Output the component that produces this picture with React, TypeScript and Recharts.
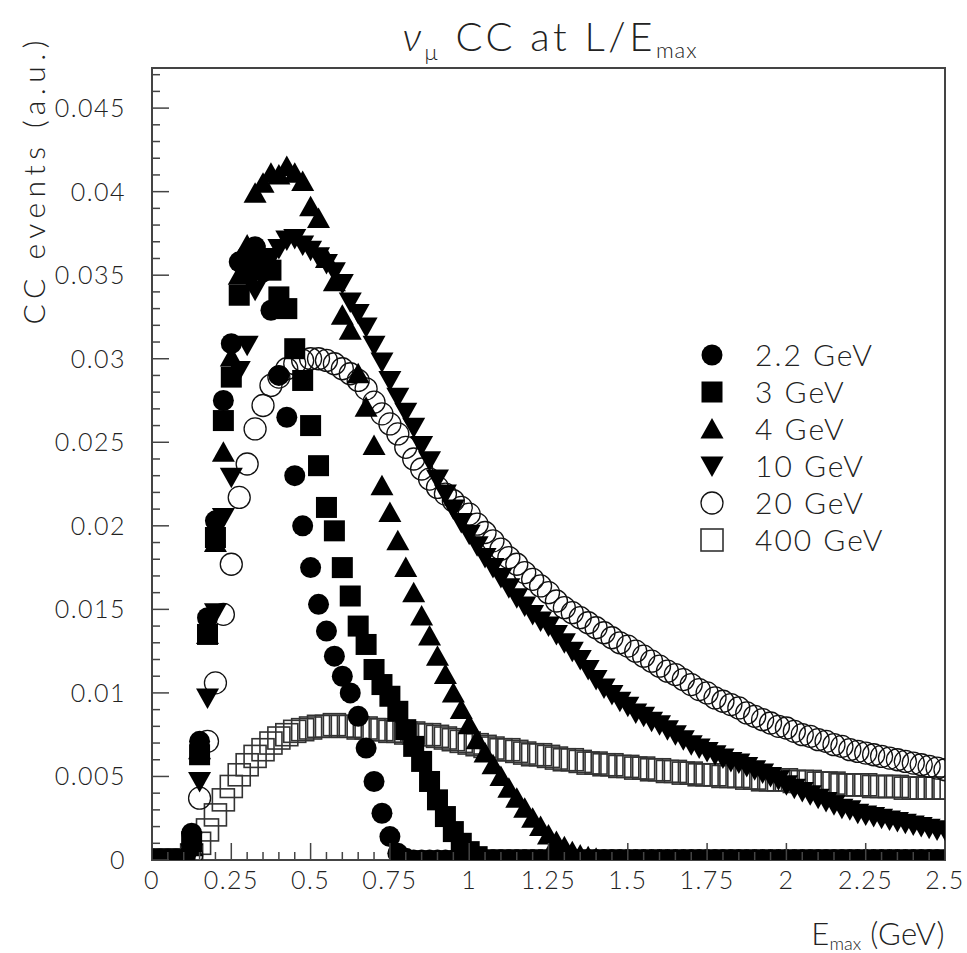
import { ScatterChart, Scatter, XAxis, YAxis, ReferenceArea } from 'recharts'

// nu_mu CC event spectra at L/E_max, one value per 0.025 GeV step in E_max (0 .. 2.5)
const BIN = 0.025

const E22 = [
  0, 0, 0, 0, 0, 0.0016, 0.0071, 0.0145, 0.0203, 0.0275,
  0.0309, 0.0358, 0.0362, 0.0367, 0.0352, 0.0329, 0.0290, 0.0265, 0.0230, 0.0200,
  0.0175, 0.0153, 0.0137, 0.0122, 0.0110, 0.0100, 0.0086, 0.0067, 0.0047, 0.0028,
  0.0014, 0.0004, 0.0001, 0, 0, 0, 0, 0, 0, 0,
  0, 0, 0, 0, 0, 0, 0, 0, 0, 0,
  0, 0, 0, 0, 0, 0, 0, 0, 0, 0,
  0, 0, 0, 0, 0, 0, 0, 0, 0, 0,
  0, 0, 0, 0, 0, 0, 0, 0, 0, 0,
  0, 0, 0, 0, 0, 0, 0, 0, 0, 0,
  0, 0, 0, 0, 0, 0, 0, 0, 0, 0,
  0,
]

const E3 = [
  0, 0, 0, 0, 0, 0.0011, 0.0063, 0.0135, 0.0193, 0.0263,
  0.0289, 0.0338, 0.0352, 0.0362, 0.0360, 0.0353, 0.0337, 0.0330, 0.0306, 0.0287,
  0.0260, 0.0236, 0.0211, 0.0197, 0.0175, 0.0158, 0.0140, 0.0129, 0.0114, 0.0105,
  0.0098, 0.0089, 0.0078, 0.0068, 0.0059, 0.0047, 0.0036, 0.0026, 0.0017, 0.0010,
  0.0005, 0.0002, 0, 0, 0, 0, 0, 0, 0, 0,
  0, 0, 0, 0, 0, 0, 0, 0, 0, 0,
  0, 0, 0, 0, 0, 0, 0, 0, 0, 0,
  0, 0, 0, 0, 0, 0, 0, 0, 0, 0,
  0, 0, 0, 0, 0, 0, 0, 0, 0, 0,
  0, 0, 0, 0, 0, 0, 0, 0, 0, 0,
  0,
]

const E4 = [
  0, 0, 0, 0, 0, 0.0008, 0.0066, 0.0135, 0.0190, 0.0244,
  0.0301, 0.0350, 0.0368, 0.0399, 0.0405, 0.0411, 0.0410, 0.0415, 0.0411, 0.0406,
  0.0391, 0.0384, 0.0360, 0.0346, 0.0326, 0.0317, 0.0291, 0.0271, 0.0248, 0.0224,
  0.0208, 0.0191, 0.0175, 0.0160, 0.0146, 0.0134, 0.0122, 0.0111, 0.0100, 0.0090,
  0.0081, 0.0072, 0.0064, 0.0057, 0.0050, 0.0043, 0.0037, 0.0031, 0.0025, 0.0020,
  0.0015, 0.0011, 0.0008, 0.0005, 0.0003, 0.0002, 0.0001, 0, 0, 0,
  0, 0, 0, 0, 0, 0, 0, 0, 0, 0,
  0, 0, 0, 0, 0, 0, 0, 0, 0, 0,
  0, 0, 0, 0, 0, 0, 0, 0, 0, 0,
  0, 0, 0, 0, 0, 0, 0, 0, 0, 0,
  0,
]

const E10 = [
  0, 0, 0, 0, 0, 0.0004, 0.0047, 0.0097, 0.0148, 0.0205,
  0.0229, 0.0293, 0.0308, 0.0341, 0.0352, 0.0360, 0.0366, 0.0371, 0.0372, 0.0368,
  0.0365, 0.0361, 0.0357, 0.0352, 0.0345, 0.0334, 0.0327, 0.0319, 0.0308, 0.0298,
  0.0287, 0.0277, 0.0268, 0.0259, 0.0248, 0.0239, 0.0228, 0.0219, 0.0210, 0.0202,
  0.0195, 0.0188, 0.0181, 0.0175, 0.0169, 0.0163, 0.0157, 0.0152, 0.0147, 0.0143,
  0.0140, 0.0135, 0.0130, 0.0125, 0.0120, 0.0114, 0.0108, 0.0103, 0.0099, 0.0095,
  0.0092, 0.0088, 0.0086, 0.0083, 0.0081, 0.0078, 0.0075, 0.0072, 0.0069, 0.0067,
  0.0065, 0.0063, 0.0061, 0.0059, 0.0058, 0.0056, 0.0054, 0.0052, 0.0050, 0.0048,
  0.0045, 0.0043, 0.0041, 0.0039, 0.0037, 0.0035, 0.0033, 0.0031, 0.0030, 0.0028,
  0.0027, 0.0026, 0.0025, 0.0024, 0.0023, 0.0022, 0.0021, 0.0020, 0.0019, 0.0018,
  0.0018,
]

const E20 = [
  0, 0, 0, 0, 0, 0.0003, 0.0037, 0.0071, 0.0106, 0.0147,
  0.0177, 0.0217, 0.0237, 0.0258, 0.0272, 0.0284, 0.0289, 0.0294, 0.0297, 0.0299,
  0.0300, 0.0300, 0.0299, 0.0297, 0.0294, 0.0291, 0.0287, 0.0282, 0.0274, 0.0267,
  0.0261, 0.0255, 0.0247, 0.0240, 0.0234, 0.0228, 0.0223, 0.0219, 0.0215, 0.0211,
  0.0207, 0.0201, 0.0196, 0.0191, 0.0186, 0.0181, 0.0177, 0.0172, 0.0168, 0.0164,
  0.0160, 0.0155, 0.0151, 0.0148, 0.0145, 0.0142, 0.0139, 0.0136, 0.0133, 0.0130,
  0.0128, 0.0125, 0.0122, 0.0119, 0.0116, 0.0113, 0.0111, 0.0108, 0.0105, 0.0102,
  0.0100, 0.0097, 0.0095, 0.0093, 0.0091, 0.0088, 0.0086, 0.0084, 0.0082, 0.0080,
  0.0079, 0.0077, 0.0075, 0.0074, 0.0072, 0.0071, 0.0069, 0.0068, 0.0066, 0.0065,
  0.0064, 0.0063, 0.0062, 0.0061, 0.0060, 0.0059, 0.0058, 0.0057, 0.0056, 0.0055,
  0.0054,
]

const E400 = [
  0, 0, 0, 0, 0, 0.0003, 0.0010, 0.0018, 0.0027, 0.0036,
  0.0044, 0.0051, 0.0057, 0.0062, 0.0066, 0.0070, 0.0073, 0.0075, 0.0077, 0.0078,
  0.0079, 0.0080, 0.0080, 0.0081, 0.0080, 0.0080, 0.0079, 0.0079, 0.0078, 0.0078,
  0.0077, 0.0077, 0.0076, 0.0076, 0.0075, 0.0075, 0.0074, 0.0073, 0.0072, 0.0071,
  0.0070, 0.0069, 0.0068, 0.0067, 0.0066, 0.0066, 0.0065, 0.0064, 0.0063, 0.0063,
  0.0062, 0.0061, 0.0060, 0.0060, 0.0059, 0.0058, 0.0058, 0.0057, 0.0057, 0.0056,
  0.0056, 0.0055, 0.0055, 0.0054, 0.0054, 0.0053, 0.0053, 0.0052, 0.0052, 0.0051,
  0.0051, 0.0051, 0.0050, 0.0050, 0.0050, 0.0049, 0.0049, 0.0048, 0.0048, 0.0048,
  0.0048, 0.0047, 0.0047, 0.0047, 0.0046, 0.0046, 0.0046, 0.0045, 0.0045, 0.0045,
  0.0045, 0.0044, 0.0044, 0.0044, 0.0044, 0.0043, 0.0043, 0.0043, 0.0043, 0.0043,
  0.0043,
]

const X_LABELS = [0, 0.25, 0.5, 0.75, 1, 1.25, 1.5, 1.75, 2, 2.25, 2.5]
const Y_LABELS = [0, 0.005, 0.01, 0.015, 0.02, 0.025, 0.03, 0.035, 0.04, 0.045]
const X_MAX = 2.5
const Y_MAX = 0.0474
const X_MINOR = 0.05
const Y_MINOR = 0.001

type Kind = 'circle' | 'square' | 'up' | 'down' | 'ocircle' | 'osquare'

const SERIES: { name: string; values: number[]; kind: Kind }[] = [
  { name: '2.2 GeV', values: E22, kind: 'circle' },
  { name: '3 GeV', values: E3, kind: 'square' },
  { name: '4 GeV', values: E4, kind: 'up' },
  { name: '10 GeV', values: E10, kind: 'down' },
  { name: '20 GeV', values: E20, kind: 'ocircle' },
  { name: '400 GeV', values: E400, kind: 'osquare' },
]

const FONT = 'Lato, "DejaVu Sans", sans-serif'
const INK = '#222'

const xTicks = Array.from({ length: Math.round(X_MAX / X_MINOR) + 1 }, (_, i) => +(i * X_MINOR).toFixed(3))
const yTicks = Array.from({ length: Math.floor(Y_MAX / Y_MINOR) + 1 }, (_, i) => +(i * Y_MINOR).toFixed(3))

const isLabel = (list: number[], v: number) => list.some(l => Math.abs(l - v) < 1e-9)

function Marker({ kind, cx, cy }: { kind: Kind; cx: number; cy: number }) {
  if (cx == null || cy == null) return null
  switch (kind) {
    case 'circle':
      return <circle cx={cx} cy={cy} r={10.5} fill="#000" />
    case 'square':
      return <rect x={cx - 10.5} y={cy - 10.5} width={21} height={21} fill="#000" />
    case 'up':
      return <polygon points={`${cx},${cy - 11} ${cx + 11.5},${cy + 9.5} ${cx - 11.5},${cy + 9.5}`} fill="#000" />
    case 'down':
      return <polygon points={`${cx - 11.5},${cy - 9.5} ${cx + 11.5},${cy - 9.5} ${cx},${cy + 11}`} fill="#000" />
    case 'ocircle':
      return <circle cx={cx} cy={cy} r={11} fill="none" stroke="#111" strokeWidth={1.3} />
    default:
      return <rect x={cx - 11} y={cy - 11} width={22} height={22} fill="none" stroke="#333" strokeWidth={1.6} />
  }
}

function XTick(props: any) {
  const { x, y, payload } = props
  const major = isLabel(X_LABELS, payload.value)
  return (
    <g>
      <line x1={x} x2={x} y1={y} y2={y - (major ? 17 : 8)} stroke="#444" strokeWidth={1.5} />
      {major && (
        <text x={x} y={y + 29} textAnchor="middle" fontSize={25} letterSpacing={1.5}
          fontFamily={FONT} fontWeight={300} fill={INK}>
          {String(payload.value)}
        </text>
      )}
    </g>
  )
}

function YTick(props: any) {
  const { x, y, payload } = props
  const major = isLabel(Y_LABELS, payload.value)
  return (
    <g>
      <line x1={x} x2={x + (major ? 17 : 8)} y1={y} y2={y} stroke="#444" strokeWidth={1.5} />
      {major && (
        <text x={x - 26} y={y + 9} textAnchor="end" fontSize={25} letterSpacing={1.5}
          fontFamily={FONT} fontWeight={300} fill={INK}>
          {String(+payload.value.toFixed(3))}
        </text>
      )}
    </g>
  )
}

export default function App() {
  const data = SERIES.map(s => ({
    ...s,
    points: s.values.map((v, i) => ({ x: +(i * BIN).toFixed(4), y: v })),
  }))
  // 400 GeV drawn first, 2.2 GeV last (on top)
  const drawOrder = [...data].reverse()

  return (
    <div style={{ position: 'absolute', left: 0, top: 0, width: 967, height: 953, background: '#fff' }}>
      <ScatterChart width={967} height={953} margin={{ top: 68, right: 22, bottom: 0, left: 0 }}>
        <XAxis
          type="number"
          dataKey="x"
          domain={[0, X_MAX]}
          ticks={xTicks}
          interval={0}
          allowDataOverflow
          height={93}
          tickSize={0}
          tickMargin={0}
          tickLine={false}
          axisLine={false}
          tick={XTick}
        />
        <YAxis
          type="number"
          dataKey="y"
          domain={[0, Y_MAX]}
          ticks={yTicks}
          interval={0}
          allowDataOverflow
          width={152}
          tickSize={0}
          tickMargin={0}
          tickLine={false}
          axisLine={false}
          tick={YTick}
        />
        {drawOrder.map(s => (
          <Scatter
            key={s.name}
            name={s.name}
            data={s.points}
            isAnimationActive={false}
            shape={(p: any) => <Marker kind={s.kind} cx={p.cx} cy={p.cy} />}
          />
        ))}
        <ReferenceArea x1={0} x2={X_MAX} y1={0} y2={Y_MAX} fill="none" stroke="#444" strokeWidth={2} />
      </ScatterChart>

      <svg width={967} height={953} style={{ position: 'absolute', left: 0, top: 0, pointerEvents: 'none' }}>
        <text x={550} y={51} textAnchor="middle" fontSize={40} letterSpacing={3.5}
          fontFamily={FONT} fontWeight={300} fill={INK}>
          <tspan fontStyle="italic">ν</tspan>
          <tspan fontSize={22} dy={9}>μ</tspan>
          <tspan dy={-9}> CC at L/E</tspan>
          <tspan fontSize={22} dy={7} letterSpacing={1}>max</tspan>
        </text>
        <text
          transform="translate(45,35) rotate(-90)"
          textAnchor="end"
          fontSize={30}
          letterSpacing={5.5}
          fontFamily={FONT}
          fontWeight={300}
          fill={INK}
        >
          CC events (a.u.)
        </text>
        <text x={945} y={945} textAnchor="end" fontSize={31} letterSpacing={0.5}
          fontFamily={FONT} fontWeight={300} fill={INK}>
          E<tspan fontSize={18} dy={5} letterSpacing={0}>max</tspan>
          <tspan dy={-5}> (GeV)</tspan>
        </text>
        {SERIES.map((s, i) => {
          const cy = 355 + i * 37
          return (
            <g key={s.name}>
              <Marker kind={s.kind} cx={712} cy={cy} />
              <text x={755} y={cy + 11} fontSize={30} letterSpacing={2}
                fontFamily={FONT} fontWeight={300} fill={INK}>
                {s.name}
              </text>
            </g>
          )
        })}
      </svg>
    </div>
  )
}
